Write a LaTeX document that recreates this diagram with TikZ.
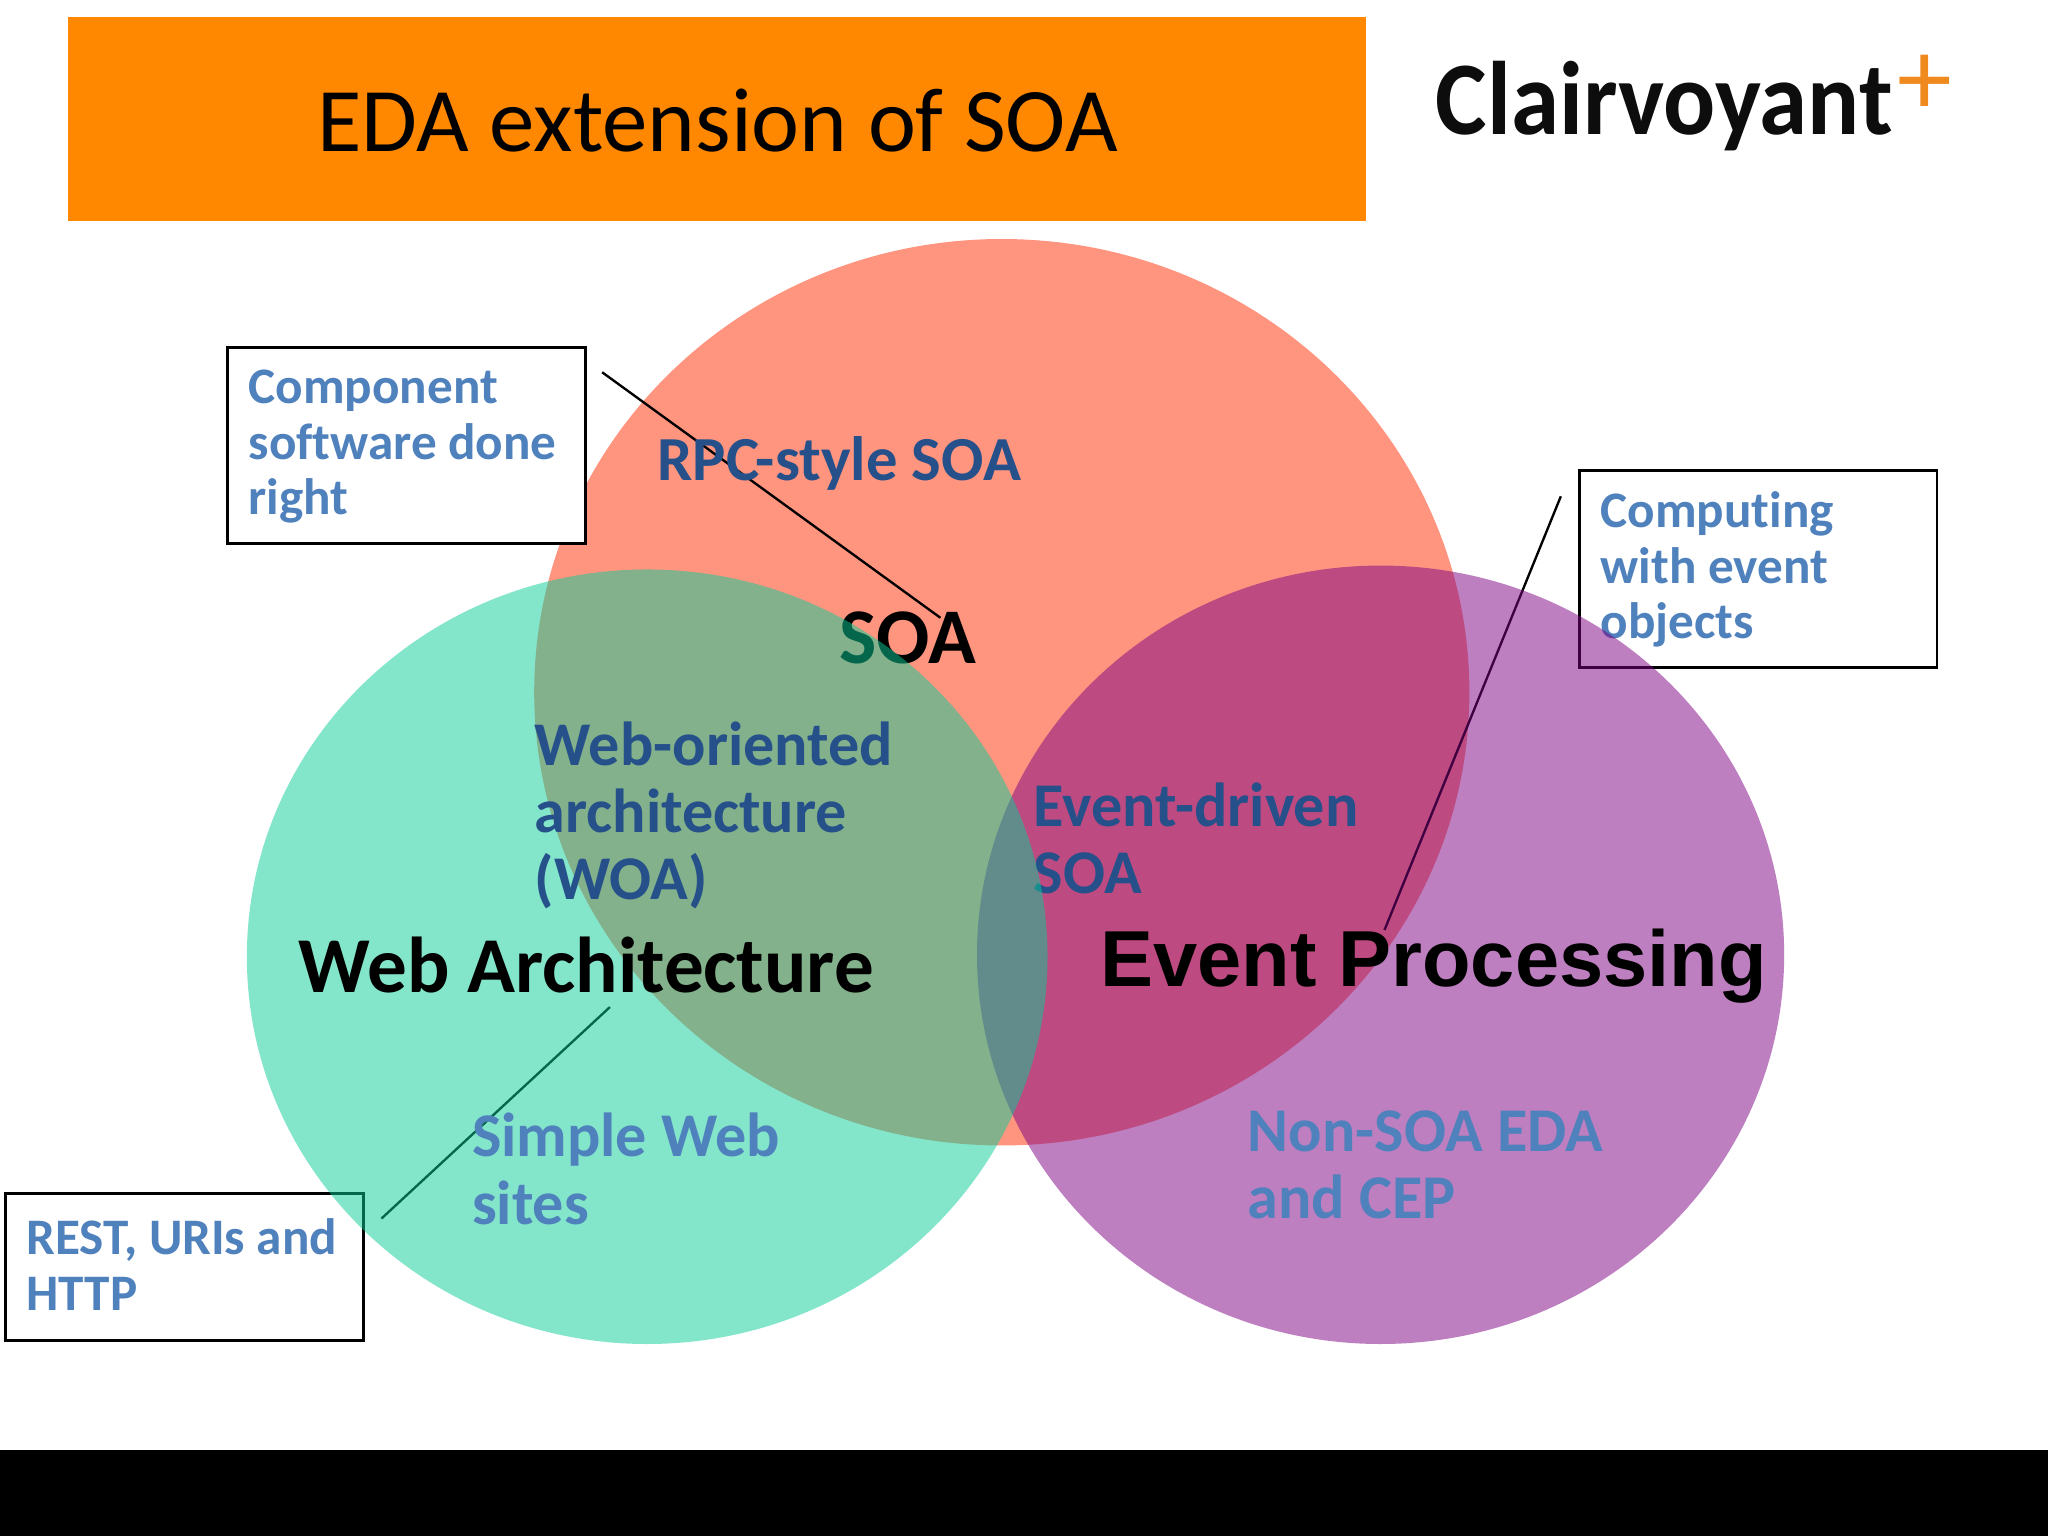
\documentclass[tikz,border=0pt]{standalone}
\usepackage{fontspec}
\setmainfont{Carlito}[Ligatures=NoCommon]
\newfontfamily\arialfont{Liberation Sans}
\definecolor{bannerorange}{RGB}{255,136,0}
\definecolor{plusorange}{RGB}{240,138,30}
\definecolor{soared}{RGB}{255,45,1}
\definecolor{webgreen}{RGB}{9,205,151}
\definecolor{eventpurple}{RGB}{125,0,129}
\definecolor{darkblue}{RGB}{37,80,138}
\definecolor{lightblue}{RGB}{79,129,189}
\tikzset{
  blob/.style={fill opacity=0.5},
  box/.style={draw=black,line width=1.1pt,fill=white,rectangle,inner sep=0pt,anchor=center},
  boxtext/.style={text=lightblue,font=\bfseries\fontsize{19.6}{21.25}\selectfont,
    align=left,inner sep=0pt,anchor=west},
  lbl/.style={inner sep=0pt,anchor=north west,align=left,
    font=\bfseries\fontsize{23.8}{25.75}\selectfont},
  conn/.style={black,line width=0.9pt},
}
\begin{document}
\begin{tikzpicture}[x=0.5pt,y=-0.5pt]
\useasboundingbox (0,0) rectangle (1568,1176);
\fill[white] (0,0) rectangle (1568,1176);
\fill[black] (0,1110) rectangle (1568,1176);
\node[fill=bannerorange,minimum width=497pt,minimum height=78pt,inner sep=0pt] (banner) at (549,91) {};
\node[inner sep=0pt,font=\fontsize{34.8}{40}\selectfont] (title) at (549.5,92.5) {EDA extension of SOA};
\node[inner sep=0pt,anchor=base west,font=\bfseries\fontsize{40}{44}\selectfont,text=black!95] (logo) at (1099,103) {\scalebox{0.93}[1]{Clairvoyant}};
\node[inner sep=0pt,anchor=center,font=\fontsize{42}{44}\selectfont,text=plusorange] (plus) at (1474,65) {+};
% red circle and what sits under the others
\fill[soared,blob] (767,530) ellipse [x radius=358,y radius=347];
\node[box,minimum width=137pt,minimum height=75pt] (compbox) at (311,341) {};
\node[boxtext] (comptext) at (190,342) {Component\\software done\\right};
\coordinate (compa) at (461,285);
\coordinate (compb) at (720,473);
\draw[conn] (compa) -- (compb);
\node[lbl,text=darkblue,font=\bfseries\fontsize{24}{25.75}\selectfont] (rpc) at (503,334) {RPC-style SOA};
\node[lbl,font=\bfseries\fontsize{30.2}{34}\selectfont] (soa) at (642,468) {SOA};
\node[box,minimum width=137pt,minimum height=75.5pt] (compute) at (1346,435.5) {};
\node[boxtext] (computetext) at (1225,436) {Computing\\with event\\objects};
\coordinate (evta) at (1195,380);
\coordinate (evtb) at (1060,712);
\draw[conn] (evta) -- (evtb);
\fill[eventpurple,blob] (1057,731) ellipse [x radius=309,y radius=298];
\node[lbl,text=darkblue] (edsoa) at (791,599) {Event-driven\\SOA};
\node[box,minimum width=137pt,minimum height=56pt] (rest) at (141,970) {};
\node[boxtext] (resttext) at (20,968) {REST, URIs and\\HTTP};
\coordinate (resta) at (292,933);
\coordinate (restb) at (467,771);
\draw[conn] (resta) -- (restb);
\fill[webgreen,blob] (495.5,732.5) ellipse [x radius=306.5,y radius=296.5];
\node[lbl,text=darkblue] (woa) at (409,552) {Web-oriented\\architecture\\(WOA)};
\node[lbl,text=lightblue] (simple) at (361,852) {Simple Web\\sites};
\node[lbl,text=lightblue] (nonsoa) at (955,850) {Non-SOA EDA\\and CEP};
\node[lbl,font=\bfseries\fontsize{30.3}{34}\selectfont] (webarch) at (228,717) {Web Architecture};
\node[lbl,font=\arialfont\bfseries\fontsize{30.4}{34}\selectfont] (evproc) at (842,711) {Event Processing};
\end{tikzpicture}
\end{document}
